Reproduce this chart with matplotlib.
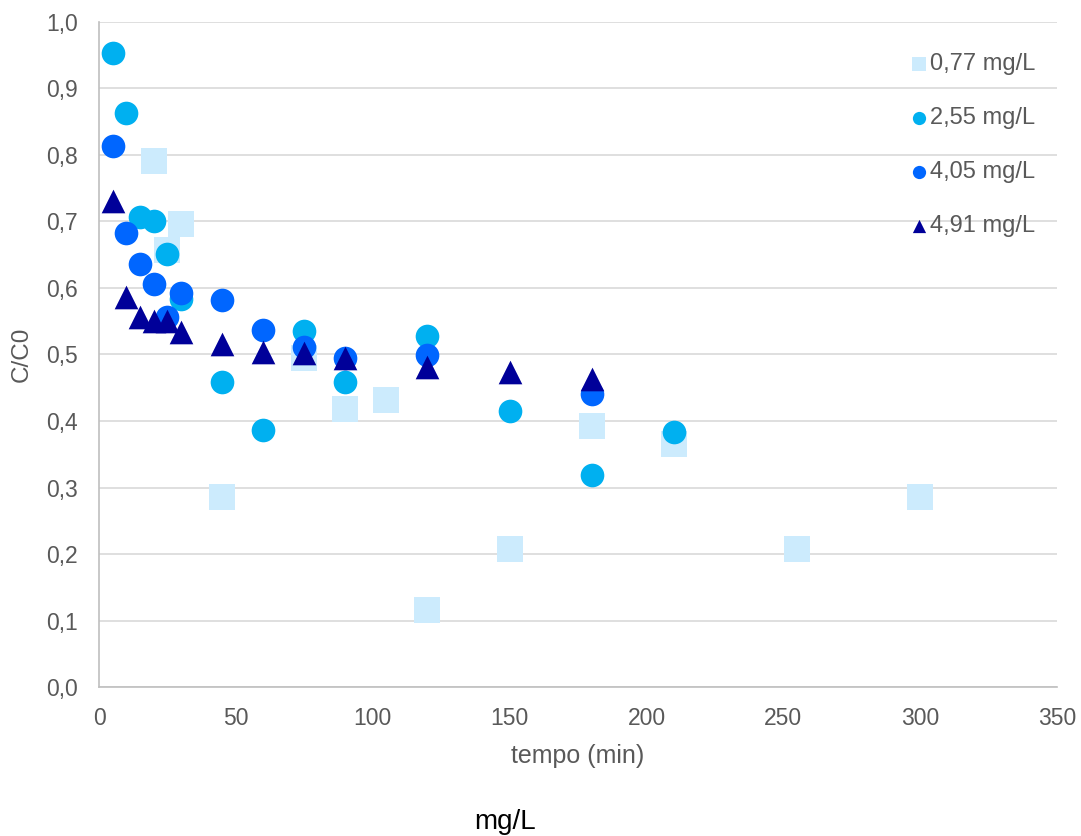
import matplotlib.pyplot as plt
import matplotlib.ticker as mticker

plt.rcParams['font.family'] = ['Liberation Sans', 'DejaVu Sans']

t_077 = [20, 25, 30, 45, 75, 90, 105, 120, 150, 180, 210, 255, 300]
c_077 = [0.790, 0.657, 0.696, 0.286, 0.495, 0.418, 0.432, 0.116, 0.208, 0.392, 0.365, 0.208, 0.286]

t_255 = [5, 10, 15, 20, 25, 30, 45, 60, 75, 90, 120, 150, 180, 210]
c_255 = [0.953, 0.863, 0.707, 0.701, 0.651, 0.583, 0.459, 0.387, 0.535, 0.459, 0.528, 0.415, 0.319, 0.383]

t_405 = [5, 10, 15, 20, 25, 30, 45, 60, 75, 90, 120, 180]
c_405 = [0.814, 0.683, 0.636, 0.606, 0.556, 0.592, 0.582, 0.537, 0.511, 0.495, 0.499, 0.441]

t_491 = [5, 10, 15, 20, 25, 30, 45, 60, 75, 90, 120, 150, 180]
c_491 = [0.731, 0.587, 0.556, 0.550, 0.550, 0.534, 0.516, 0.504, 0.502, 0.495, 0.481, 0.473, 0.463]

grey = "#595959"

fig = plt.figure(figsize=(10.81, 8.36), dpi=100)
ax = fig.add_axes([0.0916, 0.178, 0.8862, 0.796])

ax.scatter(t_077, c_077, marker="s", s=330, color="#CCEBFD", lw=0, label="0,77 mg/L", zorder=3)
ax.scatter(t_255, c_255, marker="o", s=290, color="#00B0F0", lw=0, label="2,55 mg/L", zorder=4)
ax.scatter(t_405, c_405, marker="o", s=290, color="#0066FF", lw=0, label="4,05 mg/L", zorder=5)
ax.scatter(t_491, c_491, marker="^", s=290, color="#000099", lw=0, label="4,91 mg/L", zorder=6)

ax.set_xlim(0, 350)
ax.set_ylim(0, 1.0)
ax.set_xticks(range(0, 351, 50))
ax.set_yticks([i / 10 for i in range(11)])
ax.yaxis.set_major_formatter(mticker.FuncFormatter(lambda v, p: f"{v:.1f}".replace(".", ",")))
ax.tick_params(length=0, labelsize=16.5, colors=grey)
ax.tick_params(axis="y", pad=15)
ax.tick_params(axis="x", pad=14)
ax.grid(axis="y", color="#D9D9D9", lw=1.2, zorder=0)
ax.set_axisbelow(True)
for s in ["top", "right"]:
    ax.spines[s].set_visible(False)
for s in ["left", "bottom"]:
    ax.spines[s].set_color("#BFBFBF")
    ax.spines[s].set_linewidth(1.2)

ax.set_xlabel("tempo (min)", fontsize=18, color=grey, labelpad=10)
ax.set_ylabel("C/C0", fontsize=17.5, color=grey, labelpad=10)

ax.legend(loc="upper left", bbox_to_anchor=(912 / 1081, (836 - 53) / 836),
          bbox_transform=fig.transFigure, frameon=False, fontsize=17,
          labelcolor=grey, markerscale=0.56, handletextpad=0.17, labelspacing=1.36,
          handlelength=0.6, borderpad=0, borderaxespad=0)

fig.text(0.467, 0.017, "mg/L", fontsize=20, ha="center", va="center")

fig.savefig("out.png", dpi=100)
